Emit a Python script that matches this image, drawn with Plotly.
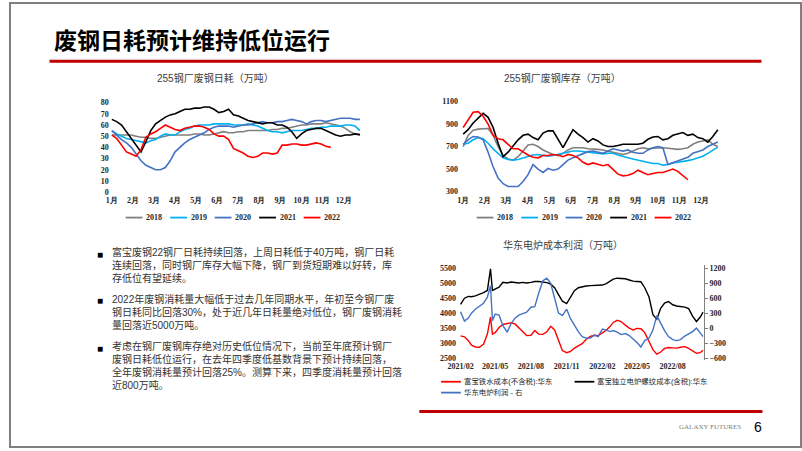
import plotly.graph_objects as go

W, H = 802, 451

# ---------------- data ----------------
weeks = list(range(1, 53))
month_labels = [f"{m}月" for m in range(1, 13)]
years = ["2018", "2019", "2020", "2021", "2022"]
year_colors = ["#7F7F7F", "#00B0F0", "#4472C4", "#000000", "#FF0000"]

# 255钢厂废钢日耗（万吨）, weekly
use_2018 = [51,51,51,51,51,50,49,49,48,48, 49,50,51,51,51,51,51,52,52,51,
            51,52,53,54,53,53,54,54,55,55, 55,55,55,56,56,57,57,58,59,60,
            60,61,61,61,62,61,60,59,57,54, 52,52]
use_2019 = [55,52,50,48,47,46,45,44,46,47, 50,52,51,51,54,56,57,59,60,60,
            60,61,61,61,61,60,60,60,61,60, 59,57,55,54,54,53,54,55,55,55,
            56,57,57,58,58,59,59,59,60,60, 59,55]
use_2020 = [55,51,47,44,40,34,28,24,22,20, 20,22,28,36,40,44,47,49,51,53,
            56,58,59,59,59,58,59,60,60,61, 62,63,62,62,63,63,64,65,64,63,
            61,63,64,64,63,64,65,66,66,66, 65,65]
use_2021 = [65,63,60,54,47,42,36,45,55,61, 64,67,69,70,72,74,74,75,75,76,
            76,74,71,72,74,69,68,66,64,63, 62,61,62,62,60,60,58,54,48,52,
            55,56,57,57,55,53,51,50,51,51, 52,51]
use_2022 = [51,48,42,36,34,32,38,49,52,54, 57,60,58,56,55,57,58,59,59,58,
            56,52,50,50,47,39,37,35,32,31, 32,35,35,34,35,42,42,43,43,42,
            42,43,44,43,41,40]
use_series = [use_2018, use_2019, use_2020, use_2021, use_2022]

# 255钢厂废钢库存（万吨）, weekly
inv_2018 = [700,800,845,855,858,860,800,700,620,590, 580,610,660,715,720,700,670,650,630,620,
            640,670,690,690,690,680,680,675,670,660, 645,635,630,640,660,680,690,680,685,690,
            690,685,680,675,680,690,720,740,750,760, 720,700]
inv_2019 = [720,730,760,780,770,730,680,640,600,585, 580,585,600,615,625,630,625,615,620,630,
            645,655,660,660,655,650,650,640,635,640, 640,625,610,600,590,580,570,560,550,550,
            535,540,555,560,565,575,585,600,615,640, 665,695]
inv_2020 = [720,760,790,785,760,650,520,420,370,345, 345,345,390,450,540,500,470,505,490,500,
            540,580,600,620,640,655,660,650,640,660, 680,670,660,670,650,640,640,670,690,700,
            690,540,555,575,590,605,640,655,670,700, 720,740]
inv_2021 = [810,850,910,950,995,960,870,730,610,650, 710,760,800,810,780,760,820,840,840,770,
            690,770,850,810,780,740,770,750,715,700, 700,710,720,720,720,720,730,765,785,790,
            760,770,800,815,825,800,810,780,770,740, 790,850]
inv_2022 = [870,940,1005,1010,970,900,800,770,760,720, 680,680,650,625,605,600,620,620,630,625,
            610,630,620,600,560,540,555,540,530,540, 500,455,440,445,460,490,470,450,460,470,
            470,485,500,480,440,405]
inv_series = [inv_2018, inv_2019, inv_2020, inv_2021, inv_2022]

# 华东电炉成本利润
dates3 = ["2021-02-01","2021-02-11","2021-02-21","2021-03-01","2021-03-11","2021-03-21",
          "2021-04-01","2021-04-11","2021-04-19","2021-04-24","2021-05-01","2021-05-11","2021-05-21",
          "2021-06-01","2021-06-11","2021-06-21","2021-07-01","2021-07-11","2021-07-21",
          "2021-08-01","2021-08-11","2021-08-21","2021-09-01","2021-09-11","2021-09-21",
          "2021-10-01","2021-10-11","2021-10-21","2021-11-01","2021-11-11","2021-11-21",
          "2021-12-01","2021-12-11","2021-12-21","2022-01-01","2022-01-11","2022-01-21",
          "2022-02-01","2022-02-11","2022-02-21","2022-03-01","2022-03-11","2022-03-21",
          "2022-04-01","2022-04-11","2022-04-21","2022-05-01","2022-05-11","2022-05-21",
          "2022-06-01","2022-06-11","2022-06-21","2022-07-01","2022-07-11","2022-07-21",
          "2022-08-01","2022-08-11","2022-08-21","2022-09-01","2022-09-11","2022-09-21",
          "2022-10-01","2022-10-11","2022-10-18"]
hot_metal_cost = [3240,3210,3080,2930,2870,2860,2960,3300,3870,3300,3350,3520,3620,
                  3650,3680,3640,3500,3370,3250,3260,3420,3300,3290,3380,3560,
                  3440,3100,2750,2680,2720,2830,2900,2980,3120,3220,3260,3250,
                  3340,3430,3560,3690,3760,3720,3600,3500,3440,3490,3480,3350,
                  3050,2780,2630,2700,2820,2850,2840,2830,2860,2880,2820,2740,
                  2660,2680,2760]
eaf_cost = [4290,4500,4560,4550,4580,4620,4690,4760,5480,4760,4800,4870,5030,
            5010,5040,5020,5010,5030,5010,5030,5060,5060,5050,5020,4970,
            4850,4620,4400,4320,4550,4750,4850,4890,4910,4920,4930,4930,
            4940,4990,5070,5140,5170,5170,5150,5110,5070,5060,5050,4850,
            4540,3950,3800,4160,4340,4390,4280,4240,4220,4200,4150,3900,
            3720,3870,4040]
eaf_profit = [330,140,200,300,380,440,500,620,850,150,280,260,50,
              -80,90,200,260,290,320,420,430,700,950,1000,900,
              600,300,250,380,190,60,-70,-170,-200,-200,-140,-170,
              -20,-40,-70,-50,-80,-130,-110,-150,-220,-290,-380,-250,
              -200,-40,250,90,-50,-170,-230,-250,-230,-160,-120,-70,
              0,-100,-170]
ticks3 = ["2021-02-01","2021-05-01","2021-08-01","2021-11-01","2022-02-01","2022-05-01","2022-08-01"]

# ---------------- helpers ----------------
def X(px):
    return px / W

def Y(py):
    return 1 - py / H

CJK = "Noto Sans CJK SC"
BODY = "Liberation Sans, Noto Sans CJK SC"
SERIF = "Liberation Serif"
tickfont = dict(family=SERIF, size=8, color="#262626", weight="bold")

fig = go.Figure()

for name, col, vals in zip(years, year_colors, use_series):
    fig.add_trace(go.Scatter(x=weeks[:len(vals)], y=vals, mode="lines", name=name,
                             line=dict(color=col, width=1.6), xaxis="x", yaxis="y",
                             showlegend=False))
for name, col, vals in zip(years, year_colors, inv_series):
    fig.add_trace(go.Scatter(x=weeks[:len(vals)], y=vals, mode="lines", name=name,
                             line=dict(color=col, width=1.6), xaxis="x2", yaxis="y2",
                             showlegend=False))
fig.add_trace(go.Scatter(x=dates3, y=hot_metal_cost, mode="lines", line=dict(color="#FF0000", width=1.4),
                         xaxis="x3", yaxis="y3", showlegend=False))
fig.add_trace(go.Scatter(x=dates3, y=eaf_cost, mode="lines", line=dict(color="#000000", width=1.4),
                         xaxis="x3", yaxis="y3", showlegend=False))
fig.add_trace(go.Scatter(x=dates3, y=eaf_profit, mode="lines", line=dict(color="#4472C4", width=1.4),
                         xaxis="x3", yaxis="y4", showlegend=False))

month_ticks = [1 + (m - 1) * 52 / 12 for m in range(1, 13)]
common = dict(showgrid=False, zeroline=False, showline=False, ticks="", tickfont=tickfont)

fig.update_layout(
    width=W, height=H, margin=dict(l=0, r=0, t=0, b=0),
    paper_bgcolor="white", plot_bgcolor="rgba(0,0,0,0)",
    xaxis=dict(domain=[X(102), X(360)], range=[0.593, 53.03], tickvals=month_ticks,
               ticktext=month_labels, anchor="y", **common),
    yaxis=dict(domain=[Y(194), Y(98)], range=[-1.5, 83.27], tickvals=list(range(0, 81, 10)),
               anchor="x", **common),
    xaxis2=dict(domain=[X(455), X(720)], range=[0.149, 52.62], tickvals=month_ticks,
                ticktext=month_labels, anchor="y2", **common),
    yaxis2=dict(domain=[Y(194), Y(98)], range=[279.8, 1123.7], tickvals=[300, 500, 700, 900, 1100],
                anchor="x2", **common),
    xaxis3=dict(domain=[X(453), X(702.7)], type="date", range=["2021-01-22 14:00", "2022-10-20"],
                tickvals=ticks3, tickformat="%Y/%m", anchor="y3", **common),
    yaxis3=dict(domain=[Y(362), Y(266)], range=[2434, 5609], tickvals=list(range(2500, 5501, 500)),
                anchor="x3", **common),
    yaxis4=dict(range=[-639.6, 1265.4], tickvals=list(range(-600, 1201, 300)), overlaying="y3",
                side="right", anchor="x3", showgrid=False, zeroline=False, showline=True,
                linecolor="#808080", linewidth=1, ticks="outside", ticklen=3, tickcolor="#808080",
                tickfont=tickfont),
)

shapes = []
annotations = []

# slide frame and rules
shapes.append(dict(type="rect", xref="paper", yref="paper", x0=X(1), x1=X(801), y0=Y(450), y1=Y(1),
                   line=dict(color="#7F7F7F", width=2)))
shapes.append(dict(type="line", xref="paper", yref="paper", x0=X(41), x1=X(761), y0=Y(60), y1=Y(60),
                   line=dict(color="#C00000", width=3)))
shapes.append(dict(type="line", xref="paper", yref="paper", x0=X(415), x1=X(762), y0=Y(414), y1=Y(414),
                   line=dict(color="#C00000", width=3)))

annotations.append(dict(text="<b>废钢日耗预计维持低位运行</b>", x=X(43), y=Y(37), xanchor="left",
                        yanchor="middle", showarrow=False, xref="paper", yref="paper",
                        font=dict(family=CJK, size=23, color="#000000")))

# chart titles
for t, cx, cy in [("255钢厂废钢日耗（万吨）", 209, 77), ("255钢厂废钢库存（万吨）", 560, 77),
                  ("华东电炉成本利润（万吨）", 560, 246)]:
    annotations.append(dict(text=t, x=X(cx), y=Y(cy), xanchor="center", yanchor="middle",
                            showarrow=False, xref="paper", yref="paper",
                            font=dict(family=BODY, size=10, color="#404040")))

# legends for charts 1 and 2
for start in (118, 473):
    for k, (name, col) in enumerate(zip(years, year_colors)):
        x0 = start + 45 * k
        shapes.append(dict(type="line", xref="paper", yref="paper", x0=X(x0), x1=X(x0 + 17),
                           y0=Y(218), y1=Y(218), line=dict(color=col, width=1.8)))
        annotations.append(dict(text=name, x=X(x0 + 19), y=Y(218), xanchor="left", yanchor="middle",
                                showarrow=False, xref="paper", yref="paper",
                                font=dict(family=SERIF, size=8, color="#262626", weight="bold")))

# legend for chart 3
leg3 = [("富宝铁水成本(不含税):华东", "#FF0000", 437, 384),
        ("富宝独立电炉螺纹成本(含税):华东", "#000000", 572, 384),
        ("华东电炉利润 - 右", "#4472C4", 437, 395)]
for name, col, x0, yy in leg3:
    shapes.append(dict(type="line", xref="paper", yref="paper", x0=X(x0), x1=X(x0 + 20),
                       y0=Y(yy), y1=Y(yy), line=dict(color=col, width=1.8)))
    annotations.append(dict(text=name, x=X(x0 + 21), y=Y(yy), xanchor="left", yanchor="middle",
                            showarrow=False, xref="paper", yref="paper",
                            font=dict(family=BODY, size=7.4, color="#262626")))

# bullet text (one block per bullet, centred on its middle line)
bullets = [
    (255, 266, ["富宝废钢22钢厂日耗持续回落，上周日耗低于40万吨，钢厂日耗",
                "连续回落，同时钢厂库存大幅下降，钢厂到货短期难以好转，库",
                "存低位有望延续。"]),
    (302, 313, ["2022年废钢消耗量大幅低于过去几年同期水平，年初至今钢厂废",
                "钢日耗同比回落30%，处于近几年日耗量绝对低位，钢厂废钢消耗",
                "量回落近5000万吨。"]),
    (350, 368, ["考虑在钢厂废钢库存绝对历史低位情况下，当前至年底预计钢厂",
                "废钢日耗低位运行，在去年四季度低基数背景下预计持续回落，",
                "全年废钢消耗量预计回落25%。测算下来，四季度消耗量预计回落",
                "近800万吨。"]),
]
for yb, yc, lines in bullets:
    annotations.append(dict(text="■", x=X(92), y=Y(yb), xanchor="center", yanchor="middle",
                            showarrow=False, xref="paper", yref="paper",
                            font=dict(family=BODY, size=10, color="#000000")))
    annotations.append(dict(text="<br>".join(lines), x=X(102), y=Y(yc), xanchor="left",
                            yanchor="middle", align="left", showarrow=False,
                            xref="paper", yref="paper",
                            font=dict(family=BODY, size=10, color="#333333")))

# footer
annotations.append(dict(text="GALAXY FUTURES", x=X(709), y=Y(430), xanchor="center", yanchor="middle",
                        showarrow=False, xref="paper", yref="paper",
                        font=dict(family=SERIF, size=7, color="#808080")))
annotations.append(dict(text="6", x=X(757), y=Y(430), xanchor="center", yanchor="middle",
                        showarrow=False, xref="paper", yref="paper",
                        font=dict(family="Liberation Sans", size=14, color="#000000")))

fig.update_layout(shapes=shapes, annotations=annotations)
fig.write_html("out.html", config={"displayModeBar": False},
               post_script="document.body.style.margin='0px';document.body.style.overflow='hidden';")
